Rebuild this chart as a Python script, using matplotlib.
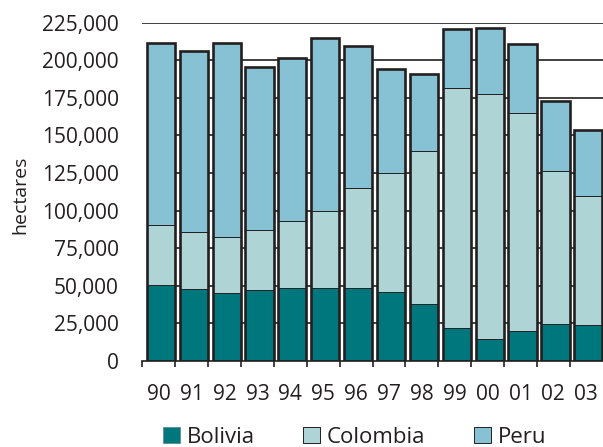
import matplotlib
matplotlib.use("Agg")
from matplotlib import pyplot as plt
import numpy as np

plt.rcParams['font.family'] = ['Open Sans', 'DejaVu Sans']

years = ["90", "91", "92", "93", "94", "95", "96", "97", "98", "99", "00", "01", "02", "03"]
bolivia = [50300, 47900, 45300, 47200, 48100, 48600, 48100, 45800, 38000, 21800, 14600, 19900, 24400, 23600]
colombia = [40100, 37500, 37100, 39700, 44700, 50900, 67200, 79400, 101800, 160100, 163300, 144800, 102000, 86000]
peru = [121300, 120800, 129100, 108600, 108800, 115300, 94400, 68800, 51000, 38700, 43400, 46200, 46700, 44200]
yticks = [0, 25000, 50000, 75000, 100000, 125000, 150000, 175000, 200000, 225000]

c_bol = "#00767d"
c_col = "#afd4d6"
c_per = "#87c2d4"
dark = "#231f20"

fig = plt.figure(figsize=(6.03, 4.47), dpi=100)
ax = fig.add_axes([0.236, 0.193, 0.7635, 0.756])

x = np.arange(len(years))
bx = x + 0.064
w = 0.857
b = np.array(bolivia)
c = np.array(colombia)
p = np.array(peru)

# gridlines (start at first bar, except the top one)
ax.hlines(yticks[1:-1], -0.365, 13.5, color=dark, lw=1.2, zorder=1)
ax.hlines(yticks[-1], -0.5, 13.5, color=dark, lw=1.2, zorder=1)

ax.bar(bx, b, w, color=c_bol, edgecolor="#5a8f92", lw=0.6, zorder=2, label="Bolivia")
ax.bar(bx, c, w, bottom=b, color=c_col, edgecolor=dark, lw=0.7, zorder=2, label="Colombia")
ax.bar(bx, p, w, bottom=b + c, color=c_per, edgecolor=dark, lw=0.7, zorder=2, label="Peru")
ax.bar(bx, b + c + p, w, fill=False, edgecolor=dark, lw=1.9, zorder=3)

ax.set_xlim(-0.5, 13.5)
ax.set_ylim(0, 225000)
for s in ["top", "right", "left"]:
    ax.spines[s].set_visible(False)
ax.spines["bottom"].set_color(dark)
ax.spines["bottom"].set_linewidth(1.2)
ax.spines["bottom"].set_zorder(4)

ax.set_yticks(yticks)
ax.set_yticklabels([f"{v:,}" for v in yticks])
ax.tick_params(axis="y", length=0, pad=17, labelsize=15, labelcolor=dark)
ax.set_xticks(x)
ax.set_xticklabels(years)
ax.set_xticks(x - 0.5, minor=True)
ax.tick_params(axis="x", which="major", length=0, pad=17, labelsize=15, labelcolor=dark)
ax.tick_params(axis="x", which="minor", length=4.5, width=1.2, color=dark, direction="out")

ax.set_ylabel("hectares", fontsize=14, color=dark)
ax.yaxis.set_label_coords(-0.245, 0.49)

fig.legend(loc="center", bbox_to_anchor=(0.588, 0.022), ncol=3, frameon=False,
           fontsize=16, handlelength=0.75, handleheight=0.75, handletextpad=0.3,
           columnspacing=2.2, labelcolor=dark)

fig.savefig("out.png", dpi=100)
